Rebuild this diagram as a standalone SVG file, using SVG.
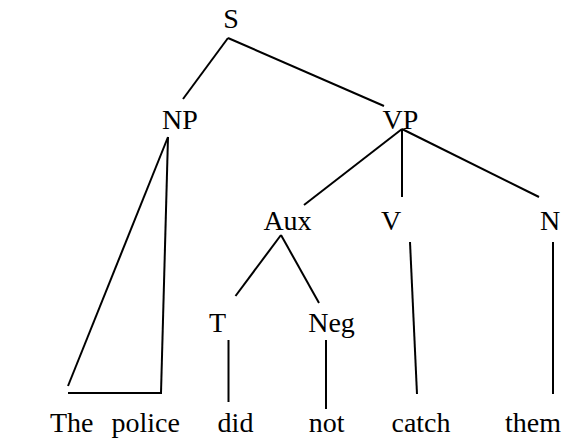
<svg xmlns="http://www.w3.org/2000/svg" width="572" height="438" viewBox="0 0 572 438">
  <style>
    text { font-family: "Liberation Serif", "Times New Roman", serif; font-size: 28px; fill: #000; }
    .lbl { text-anchor: middle; }
    .edge { stroke: #000; stroke-width: 2; fill: none; stroke-linecap: butt; }
  </style>
  <rect width="572" height="438" fill="#fff"/>

  <!-- tree branches -->
  <g id="connectors">
    <line class="edge" x1="228" y1="38" x2="183" y2="99"/>
    <line class="edge" x1="228" y1="38" x2="384" y2="106"/>
    <!-- NP triangle over "The police" -->
    <line class="edge" x1="168" y1="137" x2="68" y2="386"/>
    <line class="edge" x1="168" y1="137" x2="161" y2="393"/>
    <line class="edge" x1="68" y1="393" x2="162" y2="393"/>
    <!-- VP daughters -->
    <line class="edge" x1="402" y1="129" x2="304" y2="205"/>
    <line class="edge" x1="402" y1="129" x2="402" y2="197"/>
    <line class="edge" x1="402" y1="129" x2="539" y2="197"/>
    <!-- Aux daughters -->
    <line class="edge" x1="281" y1="235" x2="235.5" y2="296"/>
    <line class="edge" x1="281" y1="235" x2="319" y2="303"/>
    <!-- terminal branches -->
    <line class="edge" x1="228.5" y1="340" x2="228.5" y2="402"/>
    <line class="edge" x1="326" y1="340" x2="326" y2="409"/>
    <line class="edge" x1="410" y1="242" x2="417" y2="394"/>
    <line class="edge" x1="553" y1="242" x2="553" y2="394"/>
  </g>

  <g id="node-S"><text class="lbl" x="231" y="28">S</text></g>
  <g id="node-NP"><text class="lbl" x="180" y="129">NP</text></g>
  <g id="node-VP"><text class="lbl" x="400.5" y="129">VP</text></g>
  <g id="node-Aux"><text class="lbl" x="287.5" y="230">Aux</text></g>
  <g id="node-V"><text class="lbl" x="391" y="230">V</text></g>
  <g id="node-N"><text class="lbl" x="550" y="230">N</text></g>
  <g id="node-T"><text class="lbl" x="217.5" y="332">T</text></g>
  <g id="node-Neg"><text class="lbl" x="331.5" y="332">Neg</text></g>

  <g id="word-the-police"><text x="50" y="432">The<tspan x="111.5">police</tspan></text></g>
  <g id="word-did"><text class="lbl" x="235.5" y="432">did</text></g>
  <g id="word-not"><text class="lbl" x="326.7" y="432">not</text></g>
  <g id="word-catch"><text class="lbl" x="421" y="432">catch</text></g>
  <g id="word-them"><text class="lbl" x="533" y="432">them</text></g>
</svg>
